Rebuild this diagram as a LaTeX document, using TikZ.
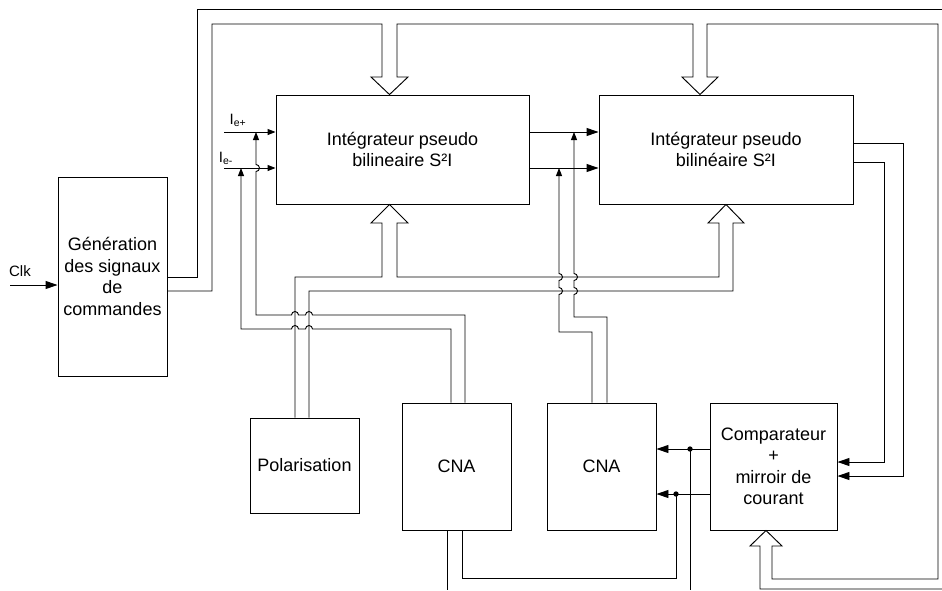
\documentclass[tikz,border=0pt]{standalone}
\usepackage{fontspec}
\setmainfont{Liberation Sans}
\usetikzlibrary{arrows.meta}

\begin{document}
\begin{tikzpicture}[x=0.75pt, y=-0.75pt, line width=0.7pt]
    \tikzstyle{block} = [rectangle, draw=black, align=center, inner sep=2pt, font=\fontsize{13.5}{16.1}\selectfont]
    \tikzstyle{lbl} = [inner sep=0pt, font=\fontsize{11.25}{13}\selectfont]
    \tikzstyle{arrow} = [-{Triangle[length=6pt,width=4.5pt]}]
    \tikzstyle{bigarrow} = [-{Triangle[length=9pt,width=6pt]}]

    \useasboundingbox (0,0) rectangle (942,590);

    \node (gen) [block, minimum width=81.75pt, minimum height=149.25pt] at (112.5,276.5) {Génération\\des signaux\\de\\commandes};
    \node (int1) [block, minimum width=189.75pt, minimum height=81.75pt] at (402.5,149.5) {Intégrateur pseudo\\bilineaire S²I};
    \node (int2) [block, minimum width=190.5pt, minimum height=81.75pt] at (726,149.5) {Intégrateur pseudo\\bilinéaire S²I};
    \node (pol) [block, minimum width=81.75pt, minimum height=71.25pt] at (304.5,465.5) {Polarisation};
    \node (cna1) [block, minimum width=81.75pt, minimum height=95.25pt] at (456.5,466.5) {CNA};
    \node (cna2) [block, minimum width=81.75pt, minimum height=95.25pt] at (601.5,466.5) {CNA};
    \node (comp) [block, minimum width=95.25pt, minimum height=95.25pt] at (773.5,466.5) {Comparateur\\+\\mirroir de\\courant};

    \node (clk) [lbl] at (20,271) {Clk};
    \node (iep) [lbl] at (238,120) {I\textsubscript{e+}};
    \node (iem) [lbl] at (226,158) {I\textsubscript{e-}};

    \draw [bigarrow] (10,285) -- (gen.west |- 0,285);
    \draw [arrow] (224,132) -- (int1.west |- 0,132);
    \draw [arrow] (224,168) -- (int1.west |- 0,168);
    \draw [bigarrow] (int1.east |- 0,132) -- (int2.west |- 0,132);
    \draw [bigarrow] (int1.east |- 0,168) -- (int2.west |- 0,168);

    \draw (gen.east |- 0,277) -- (197,277) -- (197,9) -- (942,9);
    \draw (gen.east |- 0,291) -- (212,291) -- (212,24) -- (382,24) -- (382,77) -- (371,77) -- (int1.north -| 389.5,0) -- (408,77) -- (397,77) -- (397,24)
        -- (693,24) -- (693,77) -- (682,77) -- (int2.north -| 700,0) -- (718,77) -- (707,77) -- (707,24) -- (938,24) -- (938,579)
        -- (772,579) -- (772,546) -- (782,546) -- (comp.south -| 766,0) -- (750,546) -- (760,546) -- (760,589) -- (942,589);

    \draw (pol.north -| 295,0) -- (295,277) -- (382,277) -- (382,223) -- (371,223) -- (int1.south -| 389.5,0) -- (408,223) -- (397,223) -- (397,277)
        -- (719,277) -- (719,223) -- (708,223) -- (int2.south -| 726,0) -- (744,223) -- (733,223) -- (733,291) -- (309,291) -- (pol.north -| 309,0);

    \draw [arrow] (cna1.north -| 465,0) -- (465,315) -- (312.5,315) arc[start angle=0, end angle=-180, radius=3.5] -- (298.5,315) arc[start angle=0, end angle=-180, radius=3.5]
        -- (256,315) -- (256,171.5) arc[start angle=90, end angle=-90, radius=3.5] -- (256,132);
    \draw [arrow] (cna1.north -| 451,0) -- (451,329) -- (312.5,329) arc[start angle=0, end angle=-180, radius=3.5] -- (298.5,329) arc[start angle=0, end angle=-180, radius=3.5]
        -- (241,329) -- (241,168);

    \draw [arrow] (cna2.north -| 607,0) -- (607,317) -- (574,317) -- (574,294.5) arc[start angle=90, end angle=-90, radius=3.5] -- (574,280.5) arc[start angle=90, end angle=-90, radius=3.5] -- (574,132);
    \draw [arrow] (cna2.north -| 592,0) -- (592,332) -- (559,332) -- (559,294.5) arc[start angle=90, end angle=-90, radius=3.5] -- (559,280.5) arc[start angle=90, end angle=-90, radius=3.5] -- (559,168);

    \draw [bigarrow] (int2.east |- 0,143) -- (903,143) -- (903,476) -- (comp.east |- 0,476);
    \draw [bigarrow] (int2.east |- 0,162) -- (884,162) -- (884,462) -- (comp.east |- 0,462);

    \draw [bigarrow] (comp.west |- 0,449) -- (cna2.east |- 0,449);
    \draw [bigarrow] (comp.west |- 0,494) -- (cna2.east |- 0,494);
    \coordinate (j1) at (690,449);
    \coordinate (j2) at (676,494);
    \fill (j1) circle[radius=2pt];
    \fill (j2) circle[radius=2pt];
    \draw (j1) -- (690,590);
    \draw (j2) -- (676,578) -- (462,578) -- (cna1.south -| 462,0);
    \draw (cna1.south -| 447,0) -- (447,590);
\end{tikzpicture}
\end{document}
